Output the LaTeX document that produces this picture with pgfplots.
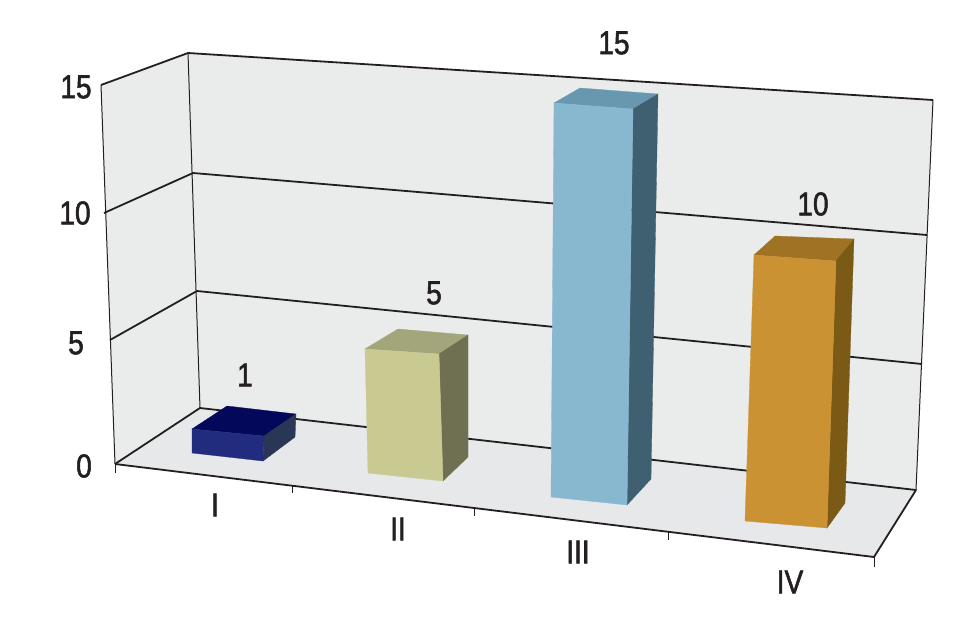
\documentclass[border=0pt]{standalone}
\usepackage{fontspec}
\setmainfont{Liberation Sans}[FakeStretch=0.85,FakeBold=1.6]
\usepackage{pgfplots}
\pgfplotsset{compat=1.18}
\definecolor{ink}{HTML}{231F20}
\definecolor{wallc}{HTML}{EAECEB}
\definecolor{floorc}{HTML}{E6E8E9}
\definecolor{navyTop}{RGB}{3,8,90}
\definecolor{navySide}{RGB}{42,54,85}
\definecolor{navyFront}{RGB}{33,44,126}
\definecolor{khakiTop}{RGB}{163,165,122}
\definecolor{khakiSide}{RGB}{111,112,82}
\definecolor{khakiFront}{RGB}{200,202,146}
\definecolor{blueTop}{RGB}{104,152,175}
\definecolor{blueSide}{RGB}{63,96,112}
\definecolor{blueFront}{RGB}{136,183,208}
\definecolor{amberTop}{RGB}{160,114,36}
\definecolor{amberSide}{RGB}{122,90,20}
\definecolor{amberFront}{RGB}{203,146,51}
\pgfplotsset{
  face/.style={fill=#1,draw=#1,line width=0.3pt,mark=none},
  heavy/.style={ink,line width=1.8pt,mark=none},
  thin/.style={ink,line width=1pt,mark=none},
  labels/.style={only marks,mark=none,point meta=explicit symbolic,nodes near coords,
    nodes near coords style={anchor=center,font=\fontsize{33}{33}\selectfont,text=ink,inner sep=0pt}},
}
\begin{document}
\begin{tikzpicture}
\begin{axis}[
    scale only axis,width=970pt,height=633pt,
    xmin=0,xmax=970,ymin=0,ymax=633,y dir=reverse,
    axis lines=none,clip=false,
]
% page background, holds the picture at full size
\addplot[fill=white,draw=none,mark=none] coordinates {(0,0) (970,0) (970,633) (0,633)} -- cycle;
% walls and floor
\addplot[face=wallc] coordinates {(101,85) (188,53) (200,408) (115,464)} -- cycle;
\addplot[face=wallc] coordinates {(188,53) (933,100) (916,490) (200,408)} -- cycle;
\addplot[face=floorc] coordinates {(115,464) (200,408) (916,490) (874,557)} -- cycle;
% gridlines, left wall then back wall
\addplot[heavy] coordinates {(115,464) (200,408) (916,490)};
\addplot[heavy] coordinates {(110,340) (197,291) (922,364)};
\addplot[heavy] coordinates {(104,213) (193,173) (927,235)};
\addplot[heavy] coordinates {(101,85) (188,53) (933,100)};
% wall edges
\addplot[thin] coordinates {(101,85) (115,464)};
\addplot[thin] coordinates {(188,53) (200,408)};
\addplot[thin] coordinates {(933,100) (916,490)};
% floor edges and ticks
\addplot[heavy] coordinates {(115,464) (874,557) (916,490)};
\addplot[thin] coordinates {(115,464) (115,473)};
\addplot[thin] coordinates {(292,485) (292,493)};
\addplot[thin] coordinates {(474,508) (474,516)};
\addplot[thin] coordinates {(668,532) (668,540)};
\addplot[thin] coordinates {(874,557) (874,567)};
% bar I, value 1
\addplot[face=navyTop] coordinates {(192,429) (227,406) (296,414) (264,436)} -- cycle;
\addplot[face=navySide] coordinates {(264,436) (296,414) (295,437) (263,461)} -- cycle;
\addplot[face=navyFront] coordinates {(192,429) (264,436) (263,461) (192,453)} -- cycle;
% bar II, value 5
\addplot[face=khakiTop] coordinates {(365,349) (398,329) (468,335) (439,354)} -- cycle;
\addplot[face=khakiSide] coordinates {(439,354) (468,335) (468,457) (443,481)} -- cycle;
\addplot[face=khakiFront] coordinates {(365,349) (439,354) (443,481) (368,473)} -- cycle;
% bar III, value 15
\addplot[face=blueTop] coordinates {(554,103) (580,88) (658,94) (633,109)} -- cycle;
\addplot[face=blueSide] coordinates {(633,109) (658,94) (651,479) (627,505)} -- cycle;
\addplot[face=blueFront] coordinates {(554,103) (633,109) (627,505) (551,497)} -- cycle;
% bar IV, value 10
\addplot[face=amberTop] coordinates {(754,255) (775,236) (854,239) (836,261)} -- cycle;
\addplot[face=amberSide] coordinates {(836,261) (854,239) (845,503) (827,528)} -- cycle;
\addplot[face=amberFront] coordinates {(754,255) (836,261) (827,528) (745,521)} -- cycle;
% value labels
\addplot[labels] coordinates {(245,375)[1] (434,293)[5] (614,43)[15] (813,204)[10]};
% value axis labels
\addplot[labels] coordinates {(84,466)[0] (76,343)[5] (75,213)[10] (76,87)[15]};
% category labels
\addplot[labels] coordinates {(215,505)[I] (398,529)[II] (578,552)[III] (790,582)[IV]};
\end{axis}
\end{tikzpicture}
\end{document}
